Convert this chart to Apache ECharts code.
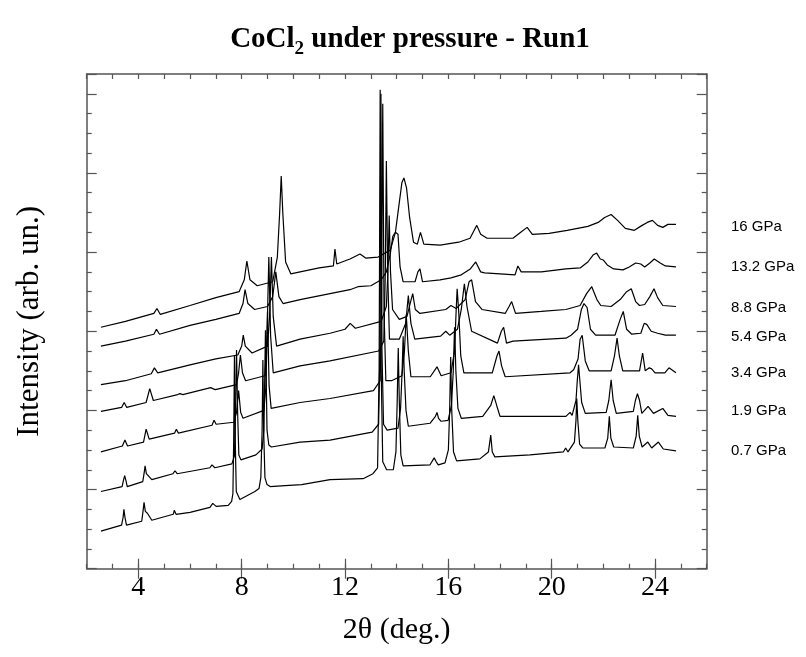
<!DOCTYPE html>
<html><head><meta charset="utf-8">
<script src="https://cdn.jsdelivr.net/npm/echarts@6/dist/echarts.min.js"></script>
<style>html,body{margin:0;padding:0;background:#fff}#c{width:806px;height:657px}</style>
</head><body><div id="c"></div>
<script>
// 2theta (deg) vs intensity (arb. units, 0..500)
const names = ['0.7 GPa','1.9 GPa','3.4 GPa','5.4 GPa','8.8 GPa','13.2 GPa','16 GPa'];
const xTickLabels = [4, 8, 12, 16, 20, 24];

const p07 = [[2.55,38],[3.35,44],[3.41,52],[3.44,60],[3.48,52],[3.54,44],[4.13,48],[4.18,58],[4.22,67],[4.27,58],[4.35,56],[4.52,49],[5.35,55],[5.39,59],[5.46,55],[6.00,57],[6.77,62],[6.88,66],[7.01,63],[7.48,64],[7.61,68],[7.66,76],[7.69,130],[7.72,216],[7.75,130],[7.79,78],[7.93,70],[8.51,78],[8.67,81],[8.74,92],[8.79,140],[8.82,211],[8.85,140],[8.90,92],[8.98,85],[9.10,83],[9.68,84],[10.32,85],[11.42,90],[12.70,91],[13.08,96],[13.26,102],[13.32,200],[13.36,484],[13.40,200],[13.46,108],[13.61,100],[13.87,100],[13.97,118],[14.02,170],[14.06,223],[14.10,170],[14.16,115],[14.25,104],[15.29,105],[15.45,112],[15.48,114],[15.53,108],[15.61,105],[15.87,107],[16.00,120],[16.05,160],[16.09,214],[16.13,160],[16.20,118],[16.32,109],[17.22,111],[17.55,118],[17.64,135],[17.70,118],[17.80,113],[19.16,115],[20.45,118],[20.54,122],[20.63,118],[20.88,128],[20.94,150],[20.97,172],[21.01,150],[21.08,126],[21.20,122],[22.06,122],[22.17,132],[22.23,154],[22.29,132],[22.40,123],[23.16,122],[23.27,134],[23.33,155],[23.39,134],[23.50,123],[23.72,128],[23.87,122],[24.13,128],[24.32,121],[24.81,119]];

const p19 = [[2.55,78],[3.37,83],[3.42,89],[3.47,94],[3.52,89],[3.57,83],[4.17,88],[4.22,96],[4.26,104],[4.31,96],[4.37,94],[4.52,90],[5.34,96],[5.42,99],[5.50,96],[6.77,102],[6.85,105],[6.96,102],[7.62,106],[7.72,114],[7.76,160],[7.80,221],[7.84,160],[7.89,115],[7.97,110],[8.55,115],[8.79,121],[8.86,140],[8.92,241],[8.98,140],[9.05,125],[9.15,123],[10.26,128],[11.42,130],[13.05,138],[13.30,146],[13.35,220],[13.39,480],[13.43,220],[13.49,146],[13.63,140],[14.05,142],[14.15,162],[14.21,200],[14.25,235],[14.29,200],[14.36,160],[14.45,144],[15.29,147],[15.50,154],[15.56,158],[15.62,152],[15.72,149],[15.99,150],[16.12,165],[16.19,200],[16.24,244],[16.29,200],[16.37,162],[16.50,152],[17.33,154],[17.64,165],[17.76,175],[17.87,165],[18.00,154],[20.55,154],[20.71,158],[20.79,155],[20.94,170],[20.99,190],[21.04,206],[21.09,190],[21.16,168],[21.30,157],[22.11,158],[22.21,170],[22.30,191],[22.38,170],[22.50,157],[23.16,159],[23.24,170],[23.32,177],[23.40,170],[23.49,157],[23.73,164],[23.94,157],[24.30,162],[24.50,155],[24.81,154]];

const p34 = [[2.55,118],[3.38,124],[3.48,130],[3.58,124],[4.20,128],[4.30,141],[4.42,131],[5.40,137],[5.47,141],[5.55,137],[6.85,145],[6.93,150],[7.01,146],[7.70,148],[7.80,158],[7.88,180],[7.96,158],[8.05,152],[8.86,160],[8.94,185],[9.00,260],[9.06,185],[9.14,162],[10.26,168],[11.42,172],[13.10,180],[13.36,190],[13.41,260],[13.46,470],[13.51,260],[13.58,190],[13.80,190],[14.20,195],[14.30,220],[14.37,257],[14.45,220],[14.55,194],[15.30,194],[15.56,204],[15.72,195],[16.10,198],[16.24,220],[16.30,260],[16.34,283],[16.40,260],[16.48,215],[16.60,198],[17.70,198],[17.88,215],[17.96,220],[18.06,205],[18.20,194],[20.71,198],[20.85,201],[21.02,212],[21.10,232],[21.18,236],[21.30,210],[21.45,200],[22.30,200],[22.43,215],[22.53,233],[22.62,215],[22.75,200],[23.40,200],[23.52,218],[23.62,200],[23.78,203],[23.87,202],[24.00,198],[24.38,198],[24.54,203],[24.81,198]];

const p54 = [[2.55,159],[3.35,163],[3.45,168],[3.55,163],[4.30,168],[4.44,182],[4.58,170],[5.52,176],[5.61,177],[5.72,176],[6.80,183],[6.88,182],[6.98,181],[7.80,186],[7.88,198],[7.95,216],[8.03,198],[8.15,190],[8.90,195],[8.98,235],[9.05,315],[9.12,235],[9.22,198],[10.26,205],[11.42,210],[13.30,220],[13.50,230],[13.56,300],[13.60,412],[13.65,300],[13.72,232],[14.10,232],[14.35,248],[14.45,276],[14.55,248],[14.70,232],[15.70,235],[15.90,240],[16.05,236],[16.35,242],[16.50,262],[16.62,288],[16.72,265],[16.90,240],[17.90,228],[18.05,240],[18.14,244],[18.25,228],[18.50,230],[20.55,233],[20.75,236],[21.00,242],[21.15,262],[21.25,268],[21.37,264],[21.50,242],[21.70,236],[22.45,236],[22.65,252],[22.77,260],[22.90,242],[23.10,237],[23.45,238],[23.58,248],[23.68,247],[23.85,240],[24.10,238],[24.40,236],[24.81,236]];

const p88 = [[2.55,186],[3.50,190],[4.50,197],[4.62,203],[4.75,198],[6.00,206],[7.00,212],[7.85,216],[8.00,225],[8.06,236],[8.14,225],[8.40,218],[9.00,225],[9.08,255],[9.15,315],[9.22,255],[9.35,225],[10.26,232],[11.42,238],[12.00,242],[12.20,248],[12.40,243],[13.40,250],[13.60,265],[13.66,300],[13.71,357],[13.76,300],[13.84,262],[14.10,252],[14.40,255],[14.52,268],[14.62,278],[14.72,262],[14.90,258],[15.90,262],[16.10,266],[16.30,263],[16.65,272],[16.80,290],[16.90,292],[17.05,270],[17.30,262],[18.20,258],[18.35,265],[18.45,270],[18.60,258],[19.60,260],[20.55,262],[21.10,266],[21.35,278],[21.55,285],[21.75,272],[21.90,266],[22.30,265],[22.65,272],[22.90,280],[23.08,283],[23.25,270],[23.40,266],[23.60,267],[23.80,275],[23.96,283],[24.10,274],[24.30,266],[24.81,265]];

const p132 = [[2.55,225],[3.50,230],[4.60,237],[4.70,242],[4.82,237],[6.00,246],[7.00,252],[7.90,258],[8.05,268],[8.13,282],[8.24,268],[8.50,262],[9.00,265],[9.20,275],[9.32,300],[9.44,275],[9.60,268],[10.26,272],[11.42,278],[12.19,282],[12.50,285],[13.00,286],[13.40,292],[13.60,300],[13.75,318],[13.85,336],[13.95,340],[14.05,338],[14.13,305],[14.25,290],[14.71,290],[14.82,300],[14.90,303],[15.00,290],[15.68,292],[16.10,294],[16.50,297],[16.85,303],[17.06,310],[17.25,300],[17.40,299],[18.00,298],[18.58,297],[18.69,306],[18.82,300],[19.10,300],[19.60,300],[20.55,303],[21.10,304],[21.40,310],[21.60,317],[21.74,319],[21.88,313],[22.00,312],[22.15,307],[22.40,303],[22.76,302],[23.00,305],[23.25,309],[23.45,308],[23.60,305],[23.80,309],[23.97,313],[24.20,309],[24.40,306],[24.81,305]];

const p16 = [[2.55,244],[3.50,250],[4.60,258],[4.72,263],[4.85,257],[6.00,266],[7.00,274],[7.90,280],[8.10,292],[8.20,311],[8.32,292],[8.60,286],[9.20,290],[9.38,315],[9.47,360],[9.53,397],[9.59,360],[9.70,310],[9.90,298],[10.26,300],[11.00,304],[11.55,306],[11.61,323],[11.68,308],[12.19,313],[12.58,318],[12.80,314],[13.28,315],[13.75,322],[13.95,340],[14.10,370],[14.20,390],[14.28,395],[14.38,385],[14.50,355],[14.65,330],[14.80,328],[14.92,340],[15.05,328],[15.68,327],[16.40,330],[16.84,334],[17.00,342],[17.10,347],[17.25,338],[17.50,334],[18.50,334],[18.80,340],[19.05,345],[19.25,338],[19.90,339],[20.60,342],[21.40,346],[21.80,350],[22.05,355],[22.30,358],[22.55,352],[22.85,344],[23.20,342],[23.50,347],[23.70,350],[23.90,352],[24.10,347],[24.30,345],[24.50,348],[24.81,348]];

const curves = [p07, p19, p34, p54, p88, p132, p16];
const labelOffsets = [[0,0],[0,-5],[0,0],[0,2],[0,1],[0,0],[0,2]];

const chart = echarts.init(document.getElementById('c'), null, {renderer: 'canvas'});
const axisColor = '#555';
const serif = '"Liberation Serif", "Times New Roman", serif';

function xAxisBase(pos) {
  return {type: 'value', min: 2, max: 26, position: pos, gridIndex: 0,
    splitLine: {show: false}};
}
const xAxes = [
  Object.assign(xAxisBase('bottom'), {
    interval: 1,
    axisLine: {show: true, onZero: false, lineStyle: {color: axisColor, width: 1.5}},
    axisTick: {show: true, inside: true, length: 5, interval: 0, lineStyle: {color: axisColor, width: 1.2}},
    axisLabel: {show: true, interval: 0, margin: 5, color: '#000', fontFamily: serif, fontSize: 28,
      formatter: v => (xTickLabels.indexOf(v) >= 0 ? String(v) : '')},
    name: '2\u03b8 (deg.)', nameLocation: 'middle', nameGap: 46,
    nameTextStyle: {color: '#000', fontFamily: serif, fontSize: 30}
  }),
  Object.assign(xAxisBase('bottom'), {
    axisLine: {show: false},
    axisTick: {show: true, inside: true, length: 10, customValues: xTickLabels, lineStyle: {color: axisColor, width: 1.2}},
    axisLabel: {show: false}
  }),
  Object.assign(xAxisBase('top'), {
    interval: 1,
    axisLine: {show: true, onZero: false, lineStyle: {color: axisColor, width: 1.5}},
    axisTick: {show: true, inside: true, length: 5, interval: 0, lineStyle: {color: axisColor, width: 1.2}},
    axisLabel: {show: false}
  }),
  Object.assign(xAxisBase('top'), {
    axisLine: {show: false},
    axisTick: {show: true, inside: true, length: 10, customValues: xTickLabels, lineStyle: {color: axisColor, width: 1.2}},
    axisLabel: {show: false}
  })
];
function yAxis(pos) {
  return {type: 'value', min: 0, max: 500, interval: 80, position: pos,
    axisLine: {show: true, onZero: false, lineStyle: {color: axisColor, width: 1.5}},
    axisTick: {show: true, inside: true, length: 10, lineStyle: {color: axisColor, width: 1.2}},
    minorTick: {show: true, splitNumber: 4, length: 5, lineStyle: {color: axisColor, width: 1.2}},
    axisLabel: {show: false}, splitLine: {show: false}, minorSplitLine: {show: false}};
}
const yAxes = [
  Object.assign(yAxis('left'), {name: 'Intensity (arb. un.)', nameLocation: 'middle', nameGap: 41,
    nameTextStyle: {color: '#000', fontFamily: serif, fontSize: 31}}),
  yAxis('right')
];

const series = curves.map((d, i) => ({
  type: 'line', name: names[i], data: d, xAxisIndex: 0, yAxisIndex: 0,
  showSymbol: false, symbol: 'none', silent: true,
  lineStyle: {color: '#000', width: 1.2},
  endLabel: {show: true, formatter: '{a}', distance: 55, offset: labelOffsets[i],
    color: '#000', fontFamily: '"Liberation Sans", Arial, sans-serif', fontSize: 15}
}));

chart.setOption({
  animation: false,
  backgroundColor: '#fff',
  title: {
    text: 'CoCl{s|2} under pressure - Run1', left: 405, top: 15, textAlign: 'center',
    textStyle: {color: '#000', fontFamily: serif, fontWeight: 'bold', fontSize: 29,
      rich: {s: {fontFamily: serif, fontWeight: 'bold', fontSize: 19, verticalAlign: 'bottom', padding: [20,0,0,0]}}}
  },
  grid: {left: 86.7, top: 74, width: 620, height: 494.7, containLabel: false},
  xAxis: xAxes,
  yAxis: yAxes,
  series: series
});
</script></body></html>
